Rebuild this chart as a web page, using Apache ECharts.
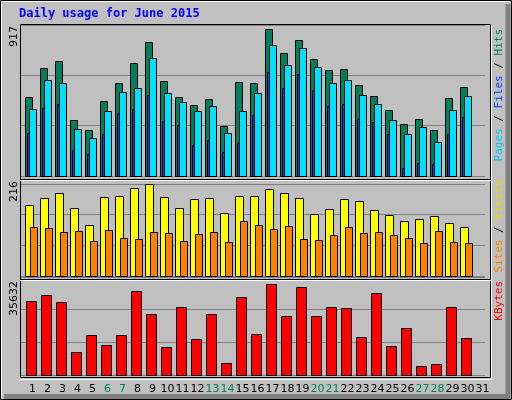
<!DOCTYPE html>
<html><head><meta charset="utf-8">
<script src="https://cdn.jsdelivr.net/npm/echarts@6/dist/echarts.min.js"></script>
<style>html,body{margin:0;padding:0;background:#c0c0c0}#c{width:512px;height:400px}</style>
</head><body><div id="c"></div>
<script>
const days = Array.from({length:31},(_,i)=>String(i+1));
const weekendDays = ['6','7','13','14','20','21','27','28'];
const hits  = [480,656,698,340,279,455,565,686,814,577,480,431,468,304,571,565,893,747,826,710,644,650,553,486,401,316,346,279,474,540,0];
const files = [407,583,565,285,231,395,510,534,717,504,449,395,425,261,395,504,796,674,777,662,565,583,492,437,340,255,298,206,401,486,0];
const pages = [261,413,437,158,134,255,383,407,492,334,310,188,219,146,200,370,632,534,619,522,425,437,346,328,255,49,79,73,255,358,0];
const visits= [166,183,194,159,119,185,187,206,216,185,159,180,183,147,187,187,204,194,183,145,157,180,176,154,143,129,133,140,124,114,0];
const sites = [114,112,103,105,82,107,89,86,103,100,82,98,103,79,129,119,110,117,86,84,96,114,100,103,96,89,77,105,79,77,0];
const kbytes= [26900,29090,26540,8360,14540,10900,14540,30540,22180,10180,24720,13090,22180,4360,28360,14900,33090,21450,32000,21450,24720,24360,13820,29820,10540,17090,3270,4000,24720,13450,0];
const maxTop=917, maxMid=216, maxBot=35632;

const chart = echarts.init(document.getElementById('c'),null,{renderer:'canvas'});
const L=20, W=465;
const grids=[{left:L,top:25,width:W,height:151},{left:L,top:184,width:W,height:92},{left:L,top:277,width:W,height:98}];
function yAx(gi,max){return {gridIndex:gi,type:'value',min:0,max:max,interval:max/3,axisLabel:{show:false},axisLine:{show:false},axisTick:{show:false},splitLine:{lineStyle:{color:'#808080',width:1}}};}
function xAx(gi,show){return {gridIndex:gi,type:'category',data:days,axisLine:{show:false},axisTick:{show:false},
  axisLabel:show?{show:true,interval:0,margin:9,padding:[0,0,0,10],fontFamily:'DejaVu Sans',fontSize:11,
  formatter:v=>weekendDays.includes(v)?'{w|'+v+'}':'{n|'+v+'}',rich:{w:{color:'#00805c',fontFamily:'DejaVu Sans',fontSize:11},n:{color:'#000',fontFamily:'DejaVu Sans',fontSize:11}}}:{show:false}};}
function bars(gi,specs){ // specs: [data,color,offset,width]
  return {type:'custom',xAxisIndex:gi,yAxisIndex:gi,data:days.map((d,i)=>i),
    renderItem:(p,api)=>{const i=api.value(0);const ch=[];
      specs.forEach(s=>{const v=s[0][i];if(!v)return;const base=api.coord([i,0]);const top=api.coord([i,v]);const sz=api.size([1,0])[0];
        const x0=base[0]-sz/2;ch.push({type:'rect',shape:{x:Math.round(x0+s[2])+0.5,y:Math.round(top[1])+0.5,width:s[3],height:Math.round(base[1]-top[1])},
        style:{fill:s[1],stroke:'#000',lineWidth:1}});});
      return {type:'group',children:ch};}};}
function rotText(x,y,parts){ // parts bottom->top
  return {type:'text',x:x,y:y,rotation:Math.PI/2,style:{text:parts.map(p=>'{'+p[1]+'|'+p[0]+'}').join(''),font:'11px "DejaVu Sans Mono"',align:'right',verticalAlign:'middle',
    rich:Object.fromEntries(parts.map(p=>[p[1],{fill:p[2],font:'11px "DejaVu Sans Mono"'}]))}};}
chart.setOption({
  animation:false,backgroundColor:'#c0c0c0',
  grid:grids,
  xAxis:[xAx(0,false),xAx(1,false),xAx(2,true)],
  yAxis:[yAx(0,maxTop),yAx(1,maxMid),yAx(2,maxBot)],
  series:[
    bars(0,[[hits,'#00805c',5,7],[files,'#00e0ff',9,7],[pages,'#0040ff',7,2]]),
    bars(1,[[visits,'#ffff00',5,8],[sites,'#ff8000',10,7]]),
    bars(2,[[kbytes,'#ff0000',6,10]])
  ],
  graphic:[
    {type:'rect',shape:{x:0.5,y:0.5,width:511,height:399},style:{fill:'none',stroke:'#000'},z:-1},
    {type:'polyline',shape:{points:[[1.5,398],[1.5,1.5],[509,1.5]]},style:{stroke:'#fff',lineWidth:1,fill:'none'}},
    {type:'polyline',shape:{points:[[508,4],[508,396.5],[4,396.5]]},style:{stroke:'#808080',lineWidth:5,fill:'none'}},
    {type:'rect',shape:{x:20.5,y:24.5,width:470,height:353},style:{fill:'none',stroke:'#000',lineWidth:1},z:10},
    {type:'line',shape:{x1:491.5,y1:25,x2:491.5,y2:379},style:{stroke:'#fff'},z:10},
    {type:'line',shape:{x1:20,y1:379.5,x2:492,y2:379.5},style:{stroke:'#fff'},z:10},
    {type:'line',shape:{x1:20,y1:179.5,x2:491,y2:179.5},style:{stroke:'#000',lineWidth:1},z:10},
    {type:'line',shape:{x1:20,y1:180.5,x2:491,y2:180.5},style:{stroke:'#fff',lineWidth:1},z:10},
    {type:'line',shape:{x1:20,y1:279.5,x2:491,y2:279.5},style:{stroke:'#000',lineWidth:1},z:10},
    {type:'line',shape:{x1:20,y1:280.5,x2:491,y2:280.5},style:{stroke:'#fff',lineWidth:1},z:10},
    {type:'text',left:19,top:8,style:{text:'Daily usage for June 2015',font:'bold 12px "DejaVu Sans Mono"',fill:'#0000ff'}},
    {type:'text',x:14,y:26,rotation:Math.PI/2,style:{text:String(maxTop),font:'11px "DejaVu Sans"',fill:'#000',align:'right',verticalAlign:'middle'}},
    {type:'text',x:14,y:181,rotation:Math.PI/2,style:{text:String(maxMid),font:'11px "DejaVu Sans"',fill:'#000',align:'right',verticalAlign:'middle'}},
    {type:'text',x:14,y:281,rotation:Math.PI/2,style:{text:String(maxBot),font:'11px "DejaVu Sans"',fill:'#000',align:'right',verticalAlign:'middle'}},
    rotText(499,29,[['Pages','a','#00c8f0'],[' / ','b','#000'],['Files','c','#0040ff'],[' / ','d','#000'],['Hits','e','#00805c']]),
    rotText(499,180,[['Sites','a','#ff8000'],[' / ','b','#000'],['Visits','c','#e0e000']]),
    rotText(499,281,[['KBytes','a','#ff0000']])
  ]
});
</script></body></html>
